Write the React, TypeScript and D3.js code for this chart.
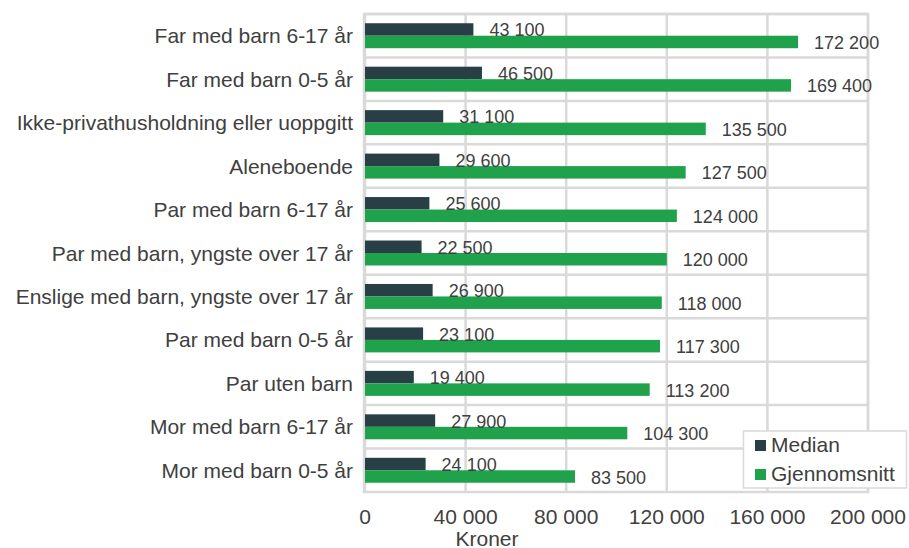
import React from 'react';
import * as d3 from 'd3';

const categories = [
  'Far med barn 6-17 år',
  'Far med barn 0-5 år',
  'Ikke-privathusholdning eller uoppgitt',
  'Aleneboende',
  'Par med barn 6-17 år',
  'Par med barn, yngste over 17 år',
  'Enslige med barn, yngste over 17 år',
  'Par med barn 0-5 år',
  'Par uten barn',
  'Mor med barn 6-17 år',
  'Mor med barn 0-5 år',
];
const median = [43100, 46500, 31100, 29600, 25600, 22500, 26900, 23100, 19400, 27900, 24100];
const gjennomsnitt = [172200, 169400, 135500, 127500, 124000, 120000, 118000, 117300, 113200, 104300, 83500];
const seriesNames = ['Median', 'Gjennomsnitt'];
const xTicks = [0, 40000, 80000, 120000, 160000, 200000];

const colors = ['#283f45', '#1fa24b'];
const grid = '#d9d9d9';
const textColor = '#404040';
const font = '"Liberation Sans", Arial, sans-serif';

const fmt = d3.formatLocale({ decimal: ',', thousands: ' ', grouping: [3], currency: ['', ' kr'] }).format(',d');

const App = () => {
  const W = 909;
  const H = 548;
  const left = 365;
  const right = 868;
  const top = 14;
  const bottom = 492;

  const x = d3.scaleLinear().domain([0, 200000]).range([left, right]);
  const y = d3.scaleBand().domain(categories).range([top, bottom]).paddingInner(0).paddingOuter(0);
  const inner = d3.scaleBand().domain(seriesNames).range([0, y.bandwidth()]).paddingInner(0).paddingOuter(0.74);

  const series = [median, gjennomsnitt];

  return (
    <svg width={W} height={H} style={{ position: 'absolute', left: 0, top: 0 }} fontFamily={font}>
      <rect x={0} y={0} width={W} height={H} fill="#fff" />
      {/* grid */}
      {xTicks.map((t) => (
        <line key={'v' + t} x1={x(t)} x2={x(t)} y1={top} y2={bottom} stroke={grid} strokeWidth={2.5} />
      ))}
      {categories.map((c, i) => (
        <line key={'h' + c} x1={left} x2={right} y1={y(c)} y2={y(c)} stroke={grid} strokeWidth={2.5} />
      ))}
      <rect x={left - 1} y={top} width={right - left + 1} height={bottom - top} fill="none" stroke={grid} strokeWidth={2.5} />

      {/* bars */}
      {series.map((vals, s) =>
        categories.map((c, i) => (
          <rect
            key={s + c}
            x={x(0)}
            y={(y(c) as number) + (inner(seriesNames[s]) as number)}
            width={x(vals[i]) - x(0)}
            height={inner.bandwidth()}
            fill={colors[s]}
          />
        ))
      )}

      {/* value labels */}
      {series.map((vals, s) =>
        categories.map((c, i) => (
          <text
            key={'l' + s + c}
            x={x(vals[i]) + 16}
            y={(y(c) as number) + (inner(seriesNames[s]) as number) + inner.bandwidth() / 2 + 7}
            fontSize={18}
            fill={textColor}
          >
            {fmt(vals[i])}
          </text>
        ))
      )}

      {/* category labels */}
      {categories.map((c) => (
        <text
          key={'c' + c}
          x={353}
          y={(y(c) as number) + y.bandwidth() / 2 + 7.5}
          textAnchor="end"
          fontSize={21}
          fill={textColor}
        >
          {c}
        </text>
      ))}

      {/* x ticks */}
      {xTicks.map((t) => (
        <text key={'t' + t} x={x(t)} y={523.5} textAnchor="middle" fontSize={21} fill={textColor}>
          {fmt(t)}
        </text>
      ))}
      <text x={487} y={545.5} textAnchor="middle" fontSize={21} fill={textColor}>
        Kroner
      </text>

      {/* legend */}
      <g>
        <rect x={743.5} y={431} width={163} height={57} fill="#fff" stroke={grid} strokeWidth={1.5} />
        {seriesNames.map((n, s) => (
          <g key={'lg' + n} transform={`translate(755, ${440 + s * 29})`}>
            <rect x={0} y={0} width={11} height={11} fill={colors[s]} />
            <text x={16} y={11.5} fontSize={21} fill={textColor}>
              {n}
            </text>
          </g>
        ))}
      </g>
    </svg>
  );
};

export default App;
